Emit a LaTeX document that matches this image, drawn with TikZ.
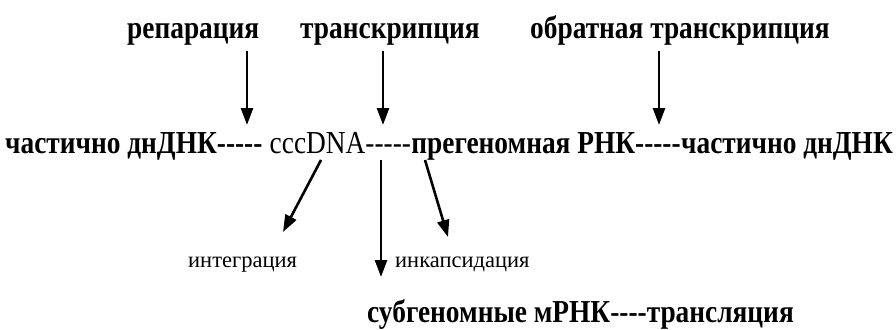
\documentclass[tikz,border=0pt]{standalone}
\usepackage{fontspec}
\setmainfont{Liberation Serif}
\newfontfamily\narrowfont[FakeStretch=0.855]{Liberation Serif}
\usetikzlibrary{arrows.meta}
\newcommand\dsh{-{}}
\begin{document}
\begin{tikzpicture}[x=1pt,y=-1pt,
  lbl/.style={inner sep=0pt, anchor=base west},
  big/.style={lbl, font=\narrowfont\bfseries\fontsize{32}{32}\selectfont},
  plain/.style={lbl, font=\narrowfont\fontsize{32}{32}\selectfont},
  small/.style={lbl, font=\fontsize{22.5}{22.5}\selectfont},
  arr/.style={line width=2.6pt, -{Triangle[length=17pt,width=12pt]}}]
\useasboundingbox (0,0) rectangle (896,329);

% processes above the main chain
\node[big] (rep) at (127,38) {репарация};
\node[big] (trans) at (300,38) {транскрипция};
\node[big] (rtrans) at (530,38) {обратная транскрипция};

% main chain
\node[big] (ds1) at (5,153) {частично днДНК\dsh\dsh\dsh\dsh-};
\node[plain] (ccc) at (ds1.base east) {\ cccDNA\dsh\dsh\dsh\dsh-};
\node[big] (pg) at (ccc.base east) {прегеномная РНК\dsh\dsh\dsh\dsh-};
\node[big] (ds2) at (pg.base east) {частично днДНК};

% branches below cccDNA
\node[small] (integ) at (188,267) {интеграция};
\node[small] (encap) at (395,267) {инкапсидация};
\node[big] (sub) at (367,322) {субгеномные мРНК\dsh\dsh\dsh-трансляция};

% arrow end points
\coordinate (e1) at (247,125);
\coordinate (e2) at (383,125);
\coordinate (e3) at (659,125);

\draw[arr] (rep.south -| e1) ++(0,6) -- (e1);
\draw[arr] (trans.south -| e2) ++(0,6) -- (e2);
\draw[arr] (rtrans.south -| e3) ++(0,6) -- (e3);

\draw[arr] (321,160) -- (283,232);
\draw[arr] (381,160) -- (381,277);
\draw[arr] (425,160) -- (448,237);
\end{tikzpicture}
\end{document}
